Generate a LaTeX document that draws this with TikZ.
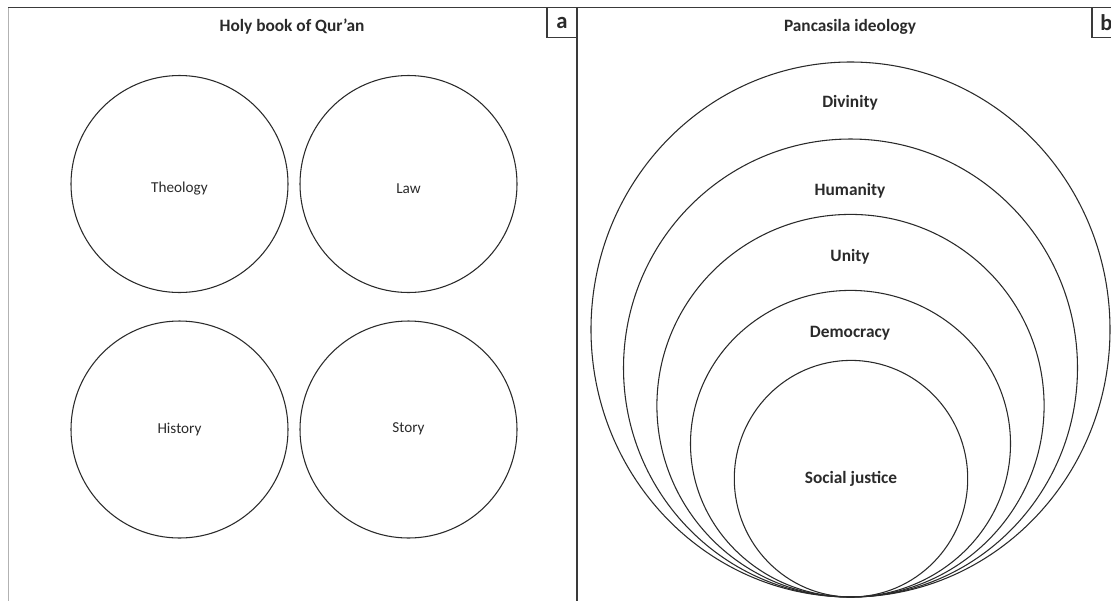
\documentclass[tikz,border=0pt]{standalone}
\usepackage{fontspec}
\setmainfont{Carlito}
\usetikzlibrary{positioning}
\definecolor{ink}{HTML}{2A2A2A}
\definecolor{frame}{HTML}{3A3A3A}
\tikzset{
  ring/.style={draw=ink, line width=0.8pt},
  plain/.style={text=ink, font=\fontsize{11.4}{13}\selectfont},
  boldlbl/.style={text=ink, font=\bfseries\fontsize{13}{15}\selectfont},
  tag/.style={text=ink, font=\bfseries\fontsize{17}{19}\selectfont},
  frameline/.style={draw=frame, line width=0.8pt}
}
\begin{document}
\begin{tikzpicture}[x=0.75pt,y=-0.75pt]
\useasboundingbox (0,0) rectangle (1111,601);
% frame
\coordinate (tl) at (8,7.7);
\coordinate (tr) at (1111,7.7);
\coordinate (bl) at (8,601);
\coordinate (dt) at (577,7.7);
\coordinate (db) at (577,601);
\draw[frameline] (tl) -- (tr);
\draw[draw=gray!60, line width=0.6pt] (tl) -- (bl);
\draw[frameline] (dt) -- (db);
% tag boxes
\coordinate (a1) at (547,7.7);
\coordinate (a2) at (547,37.7);
\coordinate (a3) at (577,37.7);
\draw[frameline] (a1) -- (a2) -- (a3);
\node[tag] (taga) at (562,22.5) {a};
\coordinate (b1) at (1092,7.7);
\coordinate (b2) at (1092,37.7);
\coordinate (b3) at (1111,37.7);
\draw[frameline] (b1) -- (b2) -- (b3);
\node[tag, anchor=west, inner sep=0pt] (tagb) at (1100,22.5) {b};
% titles
\node[boldlbl] (ta) at (292,27) {Holy book of Qur’an};
\node[boldlbl] (tb) at (850,27) {Pancasila ideology};
% panel a circles
\draw[ring] (179.5,184) circle (108.5);
\draw[ring] (408.5,184) circle (108.5);
\draw[ring] (179.5,429.5) circle (108.5);
\draw[ring] (408.5,429.5) circle (108.5);
\node[plain] (theo) at (179.5,189) {Theology};
\node[plain] (law) at (408.5,189) {Law};
\node[plain] (hist) at (179.5,429) {History};
\node[plain] (story) at (408.5,429) {Story};
% panel b nested ellipses (tangent at bottom)
\draw[ring] (850.5,329.5) ellipse [x radius=259.5, y radius=267.5];
\draw[ring] (850.5,368) ellipse [x radius=227, y radius=229];
\draw[ring] (850.5,405.7) ellipse [x radius=193.6, y radius=191.3];
\draw[ring] (850.5,443.7) ellipse [x radius=160, y radius=153.3];
\draw[ring] (851,478.7) ellipse [x radius=116.7, y radius=118.3];
\node[boldlbl] (div) at (850,103) {Divinity};
\node[boldlbl] (hum) at (850,191) {Humanity};
\node[boldlbl] (uni) at (850,256.5) {Unity};
\node[boldlbl] (dem) at (850,333) {Democracy};
\node[boldlbl] (soc) at (851,479) {Social justice};
\end{tikzpicture}
\end{document}
